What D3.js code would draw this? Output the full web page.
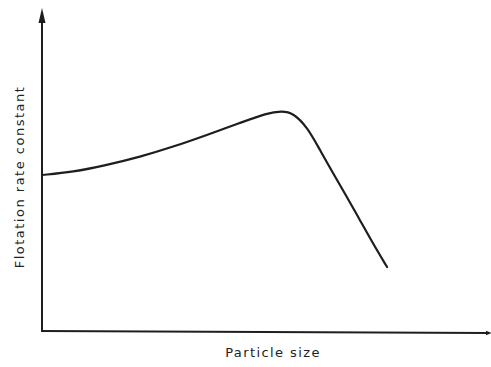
<!DOCTYPE html>
<html>
<head>
<meta charset="utf-8">
<script src="https://cdn.jsdelivr.net/npm/d3@7"></script>
<style>
  html, body { margin: 0; padding: 0; background: #fff; }
  svg { display: block; }
  text { font-family: "DejaVu Sans", "Liberation Sans", sans-serif; fill: #222; }
</style>
</head>
<body>
<svg id="chart" width="491" height="367"></svg>
<script>
// Relative particle size (arbitrary units, 0–100)
const particleSize = [0, 6.9, 14.5, 21.9, 29.3, 36.9, 44.3, 50.3, 53.7, 56.2, 59.3, 62.2, 65.1, 68.2, 71.1, 74.0, 77.2];
// Relative flotation rate constant (arbitrary units, 0–100)
const rateConstant = [48.3, 49.2, 51.4, 53.9, 57.0, 60.7, 64.4, 67.5, 68.1, 67.5, 63.2, 56.0, 48.9, 41.5, 34.4, 27.2, 19.8];
const xLabel = "Particle size";
const yLabel = "Flotation rate constant";

const svg = d3.select("#chart");
const x0 = 42, x1 = 489, y0 = 331, y1 = 8;

const x = d3.scaleLinear().domain([0, 100]).range([x0, x1]);
const y = d3.scaleLinear().domain([0, 100]).range([y0, y1]);

const ink = "#1e1e1e";

// Vertical axis with arrowhead
svg.append("line")
  .attr("x1", x(0)).attr("y1", y(0) + 1).attr("x2", x(0)).attr("y2", y(100) + 8)
  .attr("stroke", ink).attr("stroke-width", 2);
svg.append("path")
  .attr("d", `M${x(0)},${y(100)} L${x(0) - 3.5},${y(100) + 15} L${x(0) + 3.5},${y(100) + 15} Z`)
  .attr("fill", ink);

// Horizontal axis with small arrowhead
svg.append("line")
  .attr("x1", x(0) - 1).attr("y1", y(0)).attr("x2", x(100) - 1).attr("y2", y(0) + 2)
  .attr("stroke", ink).attr("stroke-width", 2);
svg.append("path")
  .attr("d", `M${x(100) + 3},${y(0) + 2} L${x(100) - 3},${y(0) - 0.2} L${x(100) - 3},${y(0) + 4.2} Z`)
  .attr("fill", ink);

// Curve (B-spline through the sampled points for a smooth hand-drawn look)
const pts = particleSize.map((p, i) => [p, rateConstant[i]]);
const line = d3.line()
  .x(d => x(d[0]))
  .y(d => y(d[1]))
  .curve(d3.curveBasis);

svg.append("path")
  .datum(pts)
  .attr("d", line)
  .attr("fill", "none")
  .attr("stroke", ink)
  .attr("stroke-width", 2.2)
  .attr("stroke-linecap", "round");

// Axis titles
svg.append("text")
  .attr("x", 273).attr("y", 357)
  .attr("text-anchor", "middle")
  .attr("font-size", 13)
  .attr("letter-spacing", 1.4)
  .text(xLabel);

svg.append("text")
  .attr("transform", `translate(24,177) rotate(-90)`)
  .attr("text-anchor", "middle")
  .attr("font-size", 13)
  .attr("letter-spacing", 1.5)
  .text(yLabel);
</script>
</body>
</html>
